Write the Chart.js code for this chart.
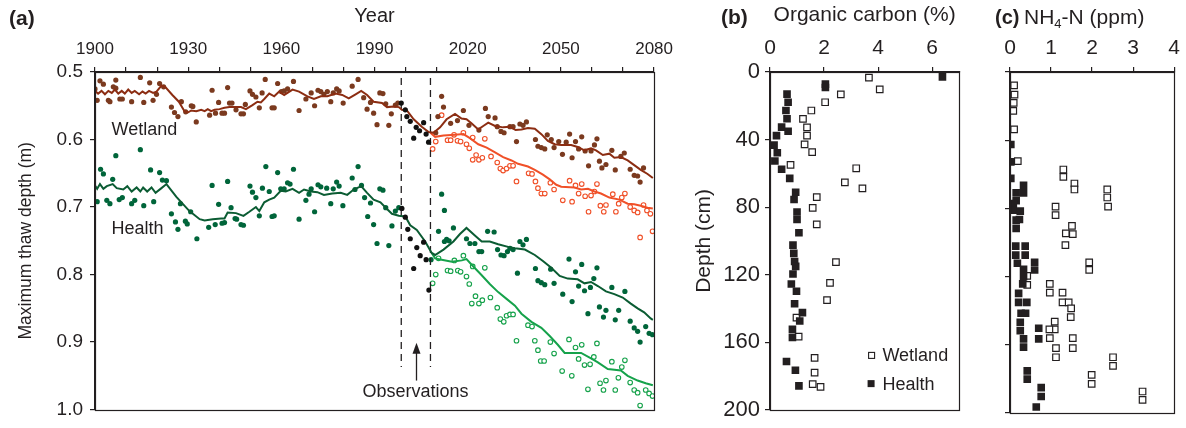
<!DOCTYPE html>
<html><head><meta charset="utf-8">
<script src="https://cdn.jsdelivr.net/npm/chart.js@4.4.1/dist/chart.umd.min.js"></script>
<style>
html,body{margin:0;padding:0;background:#fff;}
body{width:1186px;height:428px;overflow:hidden;position:relative;font-family:"Liberation Sans",Arial,Helvetica,sans-serif;color:#231f20;}
canvas{position:absolute;top:0;}
.pl{position:absolute;font-weight:bold;white-space:nowrap;}
.tt{position:absolute;white-space:nowrap;}
</style></head>
<body>
<canvas id="ca" width="680" height="428" style="left:0px"></canvas>
<canvas id="cb" width="285" height="428" style="left:680px"></canvas>
<canvas id="cc" width="221" height="428" style="left:965px"></canvas>
<div class="pl" style="left:9px;top:5px;font-size:21px;line-height:26px">(a)</div>
<div class="pl" style="left:721px;top:4px;font-size:21px;line-height:26px">(b)</div>
<div class="pl" style="left:995px;top:4px;font-size:20px;line-height:26px">(c)</div>
<div class="tt" style="left:1024px;top:4px;font-size:21px;line-height:26px">NH<sub style="font-size:13px;vertical-align:-4px;line-height:0">4</sub>-N (ppm)</div>
<script>
// ---------- Panel (a): [year, maximum thaw depth (m)] ----------
const wetlandHistDots = [[1900,0.525],[1900.7,0.542],[1901.6,0.513],[1902.7,0.518],[1904.3,0.542],[1904.8,0.544],[1905.9,0.522],[1906.7,0.512],[1906.7,0.524],[1908,0.54],[1908.8,0.54],[1911.8,0.544],[1914.6,0.508],[1915.7,0.545],[1917.6,0.516],[1918.7,0.542],[1919.8,0.533],[1920.8,0.517],[1922.1,0.522],[1924.6,0.552],[1925.6,0.56],[1926.7,0.566],[1927.8,0.544],[1929.2,0.559],[1931,0.55],[1931.5,0.551],[1932.6,0.574],[1936.9,0.564],[1937.7,0.527],[1938.8,0.561],[1939.8,0.545],[1940.9,0.561],[1941.7,0.561],[1942.7,0.523],[1943.3,0.546],[1944.1,0.546],[1945.4,0.556],[1947,0.562],[1947.8,0.562],[1948.4,0.548],[1949.9,0.528],[1950.7,0.533],[1951.8,0.537],[1952.9,0.553],[1953.8,0.531],[1954.8,0.511],[1957,0.553],[1957.7,0.553],[1958.8,0.517],[1960,0.529],[1960.9,0.528],[1962,0.525],[1963.9,0.514],[1965.7,0.557],[1967.9,0.54],[1969.6,0.531],[1970.7,0.55],[1971.8,0.527],[1972.7,0.529],[1973.7,0.533],[1974.8,0.529],[1975.9,0.544],[1976.7,0.531],[1977.8,0.525],[1978.6,0.528],[1979.9,0.546],[1982.8,0.521],[1984.7,0.511],[1986.5,0.538],[1987.6,0.555],[1988.7,0.545],[1989.7,0.561],[1990.8,0.578],[1991.7,0.531],[1992.7,0.532],[1993.6,0.547],[1994.6,0.579],[1995.4,0.562],[1996.7,0.549],[1997.5,0.546]];
const wetlandObserved = [[1998.6,0.546],[1999.9,0.556],[2000.4,0.566],[2001.5,0.573],[2002.6,0.598],[2003.4,0.582],[2004.5,0.587],[2005.8,0.575],[2006.6,0.592],[2007.4,0.604]];
const wetlandFutureDots = [[2009.7,0.59],[2010.4,0.566],[2011.6,0.536],[2012.2,0.552],[2014.5,0.576],[2016.7,0.572],[2018.6,0.557],[2020.4,0.579],[2023.6,0.586],[2025.7,0.554],[2026.6,0.566],[2028.8,0.568],[2029.5,0.581],[2030.7,0.588],[2031.7,0.59],[2033.6,0.581],[2034.6,0.581],[2035.7,0.603],[2036.8,0.577],[2037.8,0.579],[2038.9,0.574],[2041.8,0.6],[2042.6,0.61],[2043.7,0.612],[2044.8,0.614],[2045.6,0.593],[2046.9,0.6],[2047.8,0.612],[2049.3,0.603],[2050.5,0.622],[2051.7,0.604],[2052.8,0.592],[2053.6,0.627],[2054.7,0.603],[2055.7,0.614],[2056.7,0.596],[2057.8,0.617],[2058.9,0.639],[2059.7,0.617],[2060.8,0.608],[2061.6,0.599],[2062.4,0.632],[2063.2,0.642],[2064.5,0.637],[2066.4,0.616],[2067.5,0.645],[2069.3,0.625],[2070.4,0.62],[2072.3,0.644],[2073.6,0.653],[2074.7,0.654],[2075.5,0.663],[2076.6,0.642]];
const wetlandWarmDots = [[2008.7,0.614],[2009.7,0.603],[2011.6,0.564],[2013.5,0.601],[2014.5,0.601],[2015.6,0.593],[2016.7,0.602],[2017.7,0.603],[2018.6,0.59],[2019.6,0.607],[2020.5,0.613],[2021.6,0.597],[2021.6,0.63],[2022.7,0.623],[2023.6,0.63],[2024.7,0.627],[2025.5,0.599],[2027.5,0.625],[2029.5,0.634],[2030.5,0.643],[2031.4,0.646],[2032.5,0.643],[2033.6,0.639],[2034.6,0.639],[2035.7,0.662],[2039.6,0.65],[2040.7,0.651],[2041.8,0.662],[2042.6,0.672],[2043.7,0.68],[2044.8,0.68],[2046.6,0.664],[2047.8,0.674],[2050.6,0.69],[2052.8,0.661],[2053.6,0.692],[2054.7,0.668],[2055.7,0.68],[2056.7,0.666],[2057.8,0.684],[2058.9,0.707],[2059.7,0.683],[2060.8,0.677],[2061.6,0.666],[2062.7,0.698],[2063.8,0.707],[2064.5,0.697],[2066.7,0.681],[2067.7,0.707],[2068.6,0.695],[2069.6,0.686],[2070.6,0.68],[2072.3,0.7],[2073.6,0.705],[2074.7,0.708],[2075.5,0.745],[2076.6,0.697],[2077.7,0.705],[2078.8,0.71],[2079.5,0.736]];
const wetlandLine = [[1900,0.528],[1901,0.532],[1902.1,0.528],[1903.2,0.533],[1904.3,0.528],[1905.4,0.531],[1906.4,0.526],[1907.5,0.532],[1908.6,0.528],[1909.6,0.532],[1910.7,0.526],[1911.8,0.531],[1912.8,0.528],[1914.2,0.533],[1915.3,0.529],[1916.3,0.532],[1917.4,0.528],[1918.7,0.531],[1919.8,0.529],[1921.4,0.52],[1922.8,0.523],[1924.9,0.534],[1927,0.544],[1928.8,0.558],[1929.9,0.56],[1931,0.557],[1932.6,0.558],[1934.2,0.556],[1935.3,0.558],[1936.3,0.555],[1937.4,0.558],[1938.5,0.556],[1940.1,0.555],[1941.7,0.553],[1943.3,0.552],[1945.4,0.552],[1947,0.552],[1948.6,0.555],[1950.7,0.549],[1952.3,0.544],[1953.4,0.545],[1954.5,0.54],[1956.1,0.532],[1957.7,0.536],[1959.3,0.529],[1960.9,0.534],[1963.6,0.526],[1965.7,0.529],[1968.4,0.536],[1970.5,0.54],[1972.7,0.536],[1974.8,0.536],[1977.5,0.532],[1979.6,0.534],[1981.7,0.539],[1983.9,0.533],[1985.7,0.528],[1987.6,0.534],[1989.7,0.544],[1992.4,0.546],[1994,0.552],[1996.2,0.551],[1997.8,0.552],[1998.8,0.556],[2000.4,0.557],[2002.6,0.57],[2005.2,0.581],[2007.4,0.589],[2009,0.59],[2011.1,0.582],[2013.2,0.57],[2015.9,0.562],[2018,0.569],[2019.6,0.57],[2021.2,0.576],[2023.4,0.585],[2025,0.58],[2026.6,0.575],[2028.8,0.58],[2031.4,0.582],[2033.6,0.581],[2035.4,0.586],[2037.3,0.585],[2039.4,0.583],[2041.6,0.584],[2043.7,0.592],[2045.8,0.602],[2048,0.607],[2050.1,0.608],[2053.3,0.608],[2055.4,0.611],[2057.6,0.616],[2059.7,0.613],[2061.3,0.616],[2063.5,0.623],[2065.6,0.621],[2067.2,0.627],[2069.3,0.626],[2071.5,0.631],[2073.6,0.638],[2075.7,0.645],[2077.9,0.651],[2079.6,0.657]];
const wetlandWarmLine = [[2008,0.59],[2009.5,0.596],[2012.2,0.594],[2015.9,0.593],[2018.6,0.592],[2020.7,0.598],[2023.4,0.607],[2026.1,0.612],[2028.8,0.619],[2031.4,0.626],[2034.1,0.631],[2036.2,0.636],[2039.4,0.64],[2041.6,0.645],[2044.2,0.652],[2046.4,0.659],[2048.5,0.667],[2050.1,0.67],[2054.4,0.671],[2056.5,0.674],[2058.7,0.673],[2060.8,0.677],[2062.9,0.68],[2065.6,0.686],[2068.8,0.689],[2071.5,0.695],[2073.6,0.696],[2075.7,0.698],[2077.9,0.701],[2079.6,0.702]];

const healthHistDots = [[1900.7,0.692],[1901.8,0.644],[1902.7,0.651],[1903.8,0.69],[1904.8,0.695],[1905.7,0.659],[1906.7,0.624],[1907.8,0.689],[1908.8,0.686],[1911.8,0.695],[1912.8,0.69],[1914.6,0.615],[1915.7,0.698],[1917.9,0.645],[1918.9,0.692],[1920.8,0.649],[1921.7,0.66],[1923,0.661],[1924.6,0.71],[1925.9,0.722],[1926.7,0.733],[1927.5,0.695],[1929.1,0.721],[1929.7,0.725],[1930.8,0.707],[1932.8,0.747],[1936.6,0.73],[1937.7,0.668],[1938.7,0.726],[1939.8,0.696],[1940.9,0.724],[1941.7,0.723],[1942.7,0.662],[1943.8,0.701],[1945.1,0.717],[1945.6,0.718],[1947,0.726],[1947.8,0.727],[1949.9,0.669],[1950.7,0.678],[1951.8,0.686],[1952.9,0.713],[1953.9,0.672],[1955,0.64],[1956.1,0.677],[1957,0.714],[1957.7,0.713],[1958.8,0.649],[1959.8,0.673],[1960.9,0.673],[1962,0.664],[1962.8,0.666],[1963.9,0.644],[1965.7,0.718],[1967.9,0.69],[1968.9,0.681],[1969.6,0.673],[1970.7,0.707],[1971.8,0.667],[1972.7,0.67],[1974.6,0.672],[1975.9,0.695],[1976.7,0.673],[1977.8,0.663],[1978.6,0.669],[1979.8,0.698],[1982.8,0.657],[1983.7,0.674],[1984.7,0.64],[1985.8,0.668],[1986.8,0.686],[1987.8,0.714],[1988.7,0.694],[1989.7,0.726],[1990.8,0.754],[1991.7,0.673],[1992.7,0.675],[1993.6,0.701],[1994.6,0.757],[1995.6,0.728],[1996.7,0.706],[1997.8,0.701]];
const healthObserved = [[1998.8,0.702],[1999.9,0.715],[2000.7,0.733],[2001.5,0.747],[2002.6,0.791],[2003.6,0.76],[2004.7,0.772],[2005.8,0.752],[2006.6,0.778],[2007.5,0.823]];
const healthFutureDots = [[2008.2,0.778],[2010.6,0.736],[2011.6,0.681],[2012.5,0.705],[2012.5,0.751],[2013.2,0.748],[2014,0.75],[2015.4,0.731],[2019.6,0.747],[2020.7,0.754],[2022.3,0.754],[2023.6,0.766],[2024.5,0.766],[2026.4,0.736],[2028.5,0.737],[2029.6,0.763],[2030.7,0.771],[2031.7,0.772],[2032.8,0.766],[2033.6,0.761],[2034.6,0.763],[2036,0.798],[2036.8,0.751],[2037.8,0.756],[2038.9,0.748],[2041.8,0.791],[2042.6,0.809],[2043.7,0.812],[2044.8,0.815],[2046.7,0.792],[2047.8,0.813],[2050.6,0.829],[2052.6,0.777],[2053.6,0.84],[2054.7,0.796],[2055.7,0.817],[2056.7,0.785],[2057.6,0.824],[2058.7,0.858],[2059.5,0.819],[2060.6,0.806],[2061.6,0.79],[2062.4,0.848],[2063.7,0.863],[2064.5,0.853],[2066.4,0.819],[2067.5,0.867],[2068.6,0.853],[2070.6,0.825],[2072.3,0.869],[2073.6,0.879],[2074.7,0.884],[2075.5,0.9],[2077.3,0.877],[2078.4,0.887],[2079.5,0.889]];
const healthWarmDots = [[2008.7,0.813],[2009.7,0.8],[2010.6,0.776],[2013.5,0.794],[2014.5,0.795],[2015.7,0.779],[2016.8,0.794],[2017.7,0.796],[2018.6,0.772],[2019.6,0.803],[2020.5,0.814],[2021.6,0.788],[2021.3,0.843],[2022.5,0.832],[2023.6,0.843],[2024.7,0.838],[2025.5,0.79],[2027.3,0.834],[2029.5,0.849],[2030.5,0.866],[2031.6,0.87],[2032.5,0.861],[2033.6,0.859],[2034.6,0.859],[2035.7,0.898],[2039.4,0.875],[2040.7,0.877],[2041.6,0.898],[2042.6,0.912],[2043.5,0.928],[2044.6,0.928],[2046.6,0.9],[2047.8,0.917],[2050.4,0.943],[2052.6,0.896],[2053.5,0.95],[2054.7,0.908],[2055.7,0.925],[2056.7,0.904],[2057.6,0.934],[2058.7,0.97],[2059.4,0.933],[2060.6,0.922],[2061.6,0.902],[2062.6,0.961],[2063.7,0.971],[2064.5,0.957],[2066.4,0.929],[2067.5,0.971],[2068.5,0.953],[2069.6,0.937],[2070.6,0.927],[2072.3,0.96],[2073.6,0.971],[2074.7,0.975],[2075.5,0.994],[2077.3,0.971],[2078.4,0.976],[2079.5,0.98]];
const healthLine = [[1900,0.668],[1900.7,0.673],[1901.6,0.666],[1902.7,0.673],[1903.8,0.669],[1905.7,0.666],[1907,0.672],[1909.1,0.674],[1910.4,0.669],[1911.8,0.677],[1913.4,0.671],[1914.6,0.677],[1915.5,0.671],[1916.8,0.677],[1918.2,0.671],[1919.5,0.679],[1921.4,0.672],[1923,0.666],[1926.2,0.685],[1930.4,0.706],[1933.7,0.718],[1935.3,0.72],[1937.9,0.718],[1940.6,0.717],[1941.7,0.717],[1942.7,0.708],[1945.4,0.709],[1947.8,0.713],[1949.7,0.707],[1951.8,0.7],[1952.9,0.706],[1954.5,0.693],[1956.1,0.689],[1957.7,0.686],[1959.8,0.676],[1961.4,0.677],[1963.6,0.673],[1965.7,0.679],[1967.3,0.674],[1969.5,0.677],[1971.6,0.678],[1973.7,0.682],[1976.4,0.68],[1979.1,0.679],[1981.2,0.682],[1983.3,0.674],[1985.7,0.669],[1987.6,0.679],[1989.7,0.689],[1991.9,0.693],[1994,0.703],[1995.6,0.71],[1997.8,0.713],[1999.9,0.714],[2001.5,0.727],[2003.6,0.734],[2006.3,0.751],[2008.4,0.768],[2009.5,0.771],[2012.2,0.763],[2015.4,0.751],[2017.5,0.74],[2019.6,0.731],[2022.3,0.742],[2024.5,0.751],[2027.1,0.751],[2029.8,0.755],[2033,0.759],[2035.2,0.761],[2038.4,0.763],[2041.6,0.771],[2044.2,0.78],[2046.9,0.79],[2049.6,0.802],[2052.2,0.806],[2055.4,0.807],[2057.6,0.813],[2059.7,0.811],[2061.9,0.817],[2064.5,0.825],[2067.2,0.829],[2069.9,0.834],[2072.5,0.843],[2074.7,0.85],[2076.8,0.856],[2078.9,0.865],[2079.6,0.867]];
const healthWarmLine = [[2008.4,0.768],[2009.5,0.776],[2011.6,0.778],[2014.9,0.781],[2018.1,0.779],[2019.6,0.777],[2021.8,0.788],[2024.5,0.801],[2027.1,0.814],[2029.8,0.826],[2032.5,0.836],[2035.2,0.846],[2037.3,0.858],[2040.5,0.87],[2043.7,0.879],[2046.4,0.891],[2049,0.904],[2051.2,0.916],[2056.5,0.916],[2059.7,0.924],[2061.9,0.93],[2065.1,0.94],[2069.3,0.942],[2071.5,0.95],[2074.7,0.957],[2077.3,0.961],[2079.6,0.964]];

const observationPeriod = [1998.6, 2008];
const observationSpan = [0.509, 0.937];
const yearTicks = [1900, 1930, 1960, 1990, 2020, 2050, 2080];

// ---------- Panel (b): [organic carbon %, depth cm] ----------
const carbonWetland = [[3.66,3.3],[4.06,10.3],[2.62,13.2],[2.04,17.9],[1.53,22.8],[1.22,27.7],[1.37,32.8],[1.37,37.7],[1.28,42.9],[1.56,47.4],[0.76,55.0],[3.19,57.0],[2.77,65.4],[3.42,68.9],[1.73,74.1],[1.58,80.4],[1.73,90.2],[2.44,112.6],[2.22,124.9],[2.11,135.1],[0.98,145.4],[1.06,156.7],[1.65,169.2],[1.65,178.0],[1.58,184.8],[1.87,186.4]];
const carbonHealth = [[2.05,7.2],[2.05,9.2],[6.38,2.9],[0.63,13.1],[0.67,17.9],[0.59,22.8],[0.63,27.7],[0.43,32.6],[0.67,35.1],[0.24,37.7],[0.15,43.3],[0.27,47.8],[0.18,52.7],[0.43,57.6],[0.73,63.0],[0.95,71.2],[0.89,75.5],[1.0,82.9],[1.0,87.3],[1.07,95.2],[0.85,102.5],[0.88,107.4],[0.91,112.2],[0.95,115.1],[0.85,119.6],[0.79,125.5],[0.98,129.8],[0.91,137.2],[1.2,142.5],[1.1,147.4],[0.83,152.3],[0.83,157.1],[0.61,171.4],[0.94,176.6],[1.07,185.8]];

// ---------- Panel (c): [NH4-N ppm, depth cm] ----------
const nh4Wetland = [[0.1,7.8],[0.11,13.3],[0.09,18.1],[0.08,22.8],[0.1,33.6],[0.19,52.3],[1.3,57.2],[1.3,61.5],[1.57,65.4],[1.57,68.9],[2.37,68.9],[2.37,73.6],[2.39,79.0],[1.11,79.0],[1.11,83.9],[1.51,90.2],[1.36,94.7],[1.53,95.1],[1.35,101.5],[1.93,111.6],[1.93,116.1],[0.42,119.6],[0.42,124.9],[0.97,124.3],[0.97,129.4],[1.28,129.4],[1.28,135.1],[1.43,135.1],[1.49,138.6],[1.48,143.8],[1.09,146.4],[1.09,150.9],[0.96,150.9],[0.97,156.1],[1.53,156.1],[1.53,162.0],[1.12,162.0],[1.12,167.3],[2.51,167.3],[2.51,172.4],[1.99,177.6],[1.99,182.9],[3.23,187.4],[3.23,192.3]];
const nh4Health = [[0.02,42.5],[0.02,52.7],[0.02,62.4],[0.33,66.4],[0.33,70.9],[0.15,70.9],[0.15,75.5],[0.08,77.1],[0.08,81.0],[0.25,81.6],[0.23,86.5],[0.15,86.9],[0.15,91.7],[0.14,102.1],[0.14,107.4],[0.37,102.1],[0.37,107.4],[0.18,112.2],[0.6,111.6],[0.6,116.1],[0.33,115.7],[0.33,120.1],[0.31,124.3],[0.21,129.8],[0.21,135.1],[0.41,135.1],[0.27,141.5],[0.38,141.5],[0.25,146.8],[0.25,151.7],[0.7,150.3],[0.7,156.5],[0.33,156.5],[0.33,161.4],[0.42,175.3],[0.42,180.1],[0.76,185.1],[0.76,190.3],[0.64,196.5]];

const legendLabels = ['Wetland', 'Health'];

// ---------- styling ----------
const INK = '#231f20';
const FONT = '"Liberation Sans", Arial, Helvetica, sans-serif';
Chart.defaults.font.family = FONT;
Chart.defaults.color = INK;
Chart.defaults.animation = false;

const C = {
  brownDot: '#7b3a1f', brownLine: '#8c2d12',
  orange: '#f05028',
  greenDot: '#00653a', greenLine: '#0b5c33',
  lightGreen: '#16a24b',
  black: '#111111'
};
const pts = a => a.map(([x, y]) => ({x, y}));
const dotSet = (d, col, order) => ({data: pts(d), pointRadius: 2.6, pointBackgroundColor: col, pointBorderColor: col, pointBorderWidth: 0, showLine: false, order});
const ringSet = (d, col, order) => ({data: pts(d), pointRadius: 2.3, pointBackgroundColor: '#fff', pointBorderColor: col, pointBorderWidth: 1.1, showLine: false, order});
const lineSet = (d, col, order) => ({data: pts(d), showLine: true, borderColor: col, borderWidth: 2, pointRadius: 0, tension: 0, fill: false, order});

const frame = {
  id: 'frame',
  afterDraw(chart) {
    const a = chart.chartArea, ctx = chart.ctx;
    ctx.save(); ctx.strokeStyle = INK; ctx.lineWidth = 1.2;
    ctx.strokeRect(Math.round(a.left) + 0.5, Math.round(a.top) + 0.5, Math.round(a.right - a.left), Math.round(a.bottom - a.top));
    ctx.restore();
  }
};

const annotA = {
  id: 'annotA',
  afterDatasetsDraw(chart) {
    const {ctx, scales: {x, y}} = chart;
    ctx.save();
    ctx.fillStyle = INK; ctx.strokeStyle = INK;
    ctx.font = '18px ' + FONT; ctx.textBaseline = 'middle'; ctx.textAlign = 'left';
    ctx.fillText('Wetland', x.getPixelForValue(1905.3), y.getPixelForValue(0.586));
    ctx.fillText('Health', x.getPixelForValue(1905.3), y.getPixelForValue(0.732));
    ctx.textAlign = 'center';
    ctx.fillText('Observations', x.getPixelForValue(2003.2), y.getPixelForValue(0.974));
    const ax = Math.round(x.getPixelForValue(2003.2)) + 0.5;
    const yTip = y.getPixelForValue(0.901), yTail = y.getPixelForValue(0.957);
    ctx.lineWidth = 1.3;
    ctx.beginPath(); ctx.moveTo(ax, yTail); ctx.lineTo(ax, yTip + 8); ctx.stroke();
    ctx.beginPath(); ctx.moveTo(ax, yTip); ctx.lineTo(ax - 4, yTip + 11); ctx.lineTo(ax + 4, yTip + 11); ctx.closePath(); ctx.fill();
    ctx.restore();
  }
};

const axisGrid = {drawOnChartArea: false, drawTicks: true, tickLength: 5, color: INK, tickColor: INK, lineWidth: 1.2};

// ---------- Chart (a) ----------
new Chart(document.getElementById('ca'), {
  type: 'scatter',
  data: {
    datasets: [
      lineSet(wetlandLine, C.brownLine, 2),
      lineSet(wetlandWarmLine, C.orange, 2),
      lineSet(healthLine, C.greenLine, 2),
      lineSet(healthWarmLine, C.lightGreen, 2),
      dotSet(wetlandHistDots, C.brownDot, 5),
      dotSet(wetlandFutureDots, C.brownDot, 5),
      ringSet(wetlandWarmDots, C.orange, 5),
      dotSet(healthHistDots, C.greenDot, 5),
      dotSet(healthFutureDots, C.greenDot, 5),
      ringSet(healthWarmDots, C.lightGreen, 5),
      dotSet(wetlandObserved, C.black, 1),
      dotSet(healthObserved, C.black, 1),
      ...observationPeriod.map(yr => ({data: observationSpan.map(v => ({x: yr, y: v})), showLine: true, borderColor: INK, borderWidth: 1.3, borderDash: [7, 5], pointRadius: 0, order: 3}))
    ]
  },
  options: {
    responsive: false, animation: false,
    layout: {padding: {left: 0, top: 0, right: 23, bottom: 13}},
    plugins: {legend: {display: false}, tooltip: {enabled: false}},
    scales: {
      x: {
        type: 'linear', position: 'top', min: 1900, max: 2080,
        afterBuildTicks: s => { s.ticks = []; for (let v = 1900; v <= 2080; v += 10) s.ticks.push({value: v}); },
        ticks: {autoSkip: false, maxRotation: 0, font: {size: 17}, color: INK, padding: 7,
          callback: v => yearTicks.includes(v) ? String(v) : ''},
        grid: axisGrid, border: {color: INK, width: 1.2},
        title: {display: true, text: 'Year', font: {size: 20}, color: INK, padding: {top: 4, bottom: 0}},
        afterFit: s => { s.height = 72; }
      },
      y: {
        type: 'linear', position: 'left', reverse: true, min: 0.5, max: 1.0,
        ticks: {stepSize: 0.1, font: {size: 19}, color: INK, padding: 7, callback: v => v.toFixed(1)},
        grid: axisGrid, border: {color: INK, width: 1.2},
        title: {display: true, text: 'Maximum thaw depth (m)', font: {size: 17.5}, color: INK, padding: {top: 16, bottom: 0}},
        afterFit: s => { s.width = 95; }
      }
    }
  },
  plugins: [frame, annotA]
});

// ---------- Chart (b) ----------
const sqOpen = d => ({data: pts(d), pointStyle: 'rect', pointRadius: 4.6, pointBackgroundColor: '#fff', pointBorderColor: INK, pointBorderWidth: 1.2, showLine: false, order: 2});
const sqFill = d => ({data: pts(d), pointStyle: 'rect', pointRadius: 5.4, pointBackgroundColor: INK, pointBorderColor: INK, pointBorderWidth: 0, showLine: false, order: 1});

const legendB = {
  id: 'legendB',
  afterDatasetsDraw(chart) {
    const {ctx, scales: {x, y}} = chart;
    ctx.save();
    ctx.font = '18px ' + FONT; ctx.textBaseline = 'middle'; ctx.textAlign = 'left'; ctx.fillStyle = INK;
    const sx = x.getPixelForValue(3.74), tx = x.getPixelForValue(4.16);
    const rows = [y.getPixelForValue(167.5), y.getPixelForValue(184.5)];
    ctx.lineWidth = 1.1; ctx.strokeStyle = INK;
    ctx.fillStyle = '#fff'; ctx.fillRect(sx - 3, rows[0] - 3, 6, 6); ctx.strokeRect(sx - 3 + 0.5, rows[0] - 3 + 0.5, 6, 6);
    ctx.fillStyle = INK; ctx.fillRect(sx - 3.5, rows[1] - 3.5, 7, 7);
    ctx.fillText(legendLabels[0], tx, rows[0] + 1);
    ctx.fillText(legendLabels[1], tx, rows[1] + 1);
    ctx.restore();
  }
};

new Chart(document.getElementById('cb'), {
  type: 'scatter',
  data: {datasets: [sqOpen(carbonWetland), sqFill(carbonHealth)]},
  options: {
    responsive: false, animation: false,
    layout: {padding: {left: 0, top: 0, right: 4, bottom: 15}},
    plugins: {legend: {display: false}, tooltip: {enabled: false}},
    scales: {
      x: {
        type: 'linear', position: 'top', min: 0, max: 7,
        ticks: {stepSize: 2, includeBounds: false, font: {size: 21}, color: INK, padding: 6, maxRotation: 0},
        grid: axisGrid, border: {color: INK, width: 1.2},
        title: {display: true, text: 'Organic carbon (%)', font: {size: 21}, color: INK, padding: {top: 3, bottom: 0}},
        afterFit: s => { s.height = 72; }
      },
      y: {
        type: 'linear', position: 'left', reverse: true, min: 0, max: 200,
        ticks: {stepSize: 40, font: {size: 22}, color: INK, padding: 5},
        grid: axisGrid, border: {color: INK, width: 1.2},
        title: {display: true, text: 'Depth (cm)', font: {size: 21}, color: INK, padding: {top: 12, bottom: 0}},
        afterFit: s => { s.width = 90; }
      }
    }
  },
  plugins: [frame, legendB]
});

// ---------- Chart (c) ----------
new Chart(document.getElementById('cc'), {
  type: 'scatter',
  data: {datasets: [sqOpen(nh4Wetland), sqFill(nh4Health)]},
  options: {
    responsive: false, animation: false,
    layout: {padding: {left: 0, top: 0, right: 2, bottom: 15}},
    plugins: {legend: {display: false}, tooltip: {enabled: false}},
    scales: {
      x: {
        type: 'linear', position: 'top', min: 0, max: 4,
        ticks: {stepSize: 1, font: {size: 21}, color: INK, padding: 6, maxRotation: 0},
        grid: axisGrid, border: {color: INK, width: 1.2},
        afterFit: s => { s.height = 72; }
      },
      y: {
        type: 'linear', position: 'left', reverse: true, min: 0, max: 200,
        ticks: {stepSize: 40, font: {size: 10}, callback: () => ''},
        grid: axisGrid, border: {color: INK, width: 1.2},
        afterFit: s => { s.width = 45; }
      }
    }
  },
  plugins: [frame]
});
</script>
</body></html>
